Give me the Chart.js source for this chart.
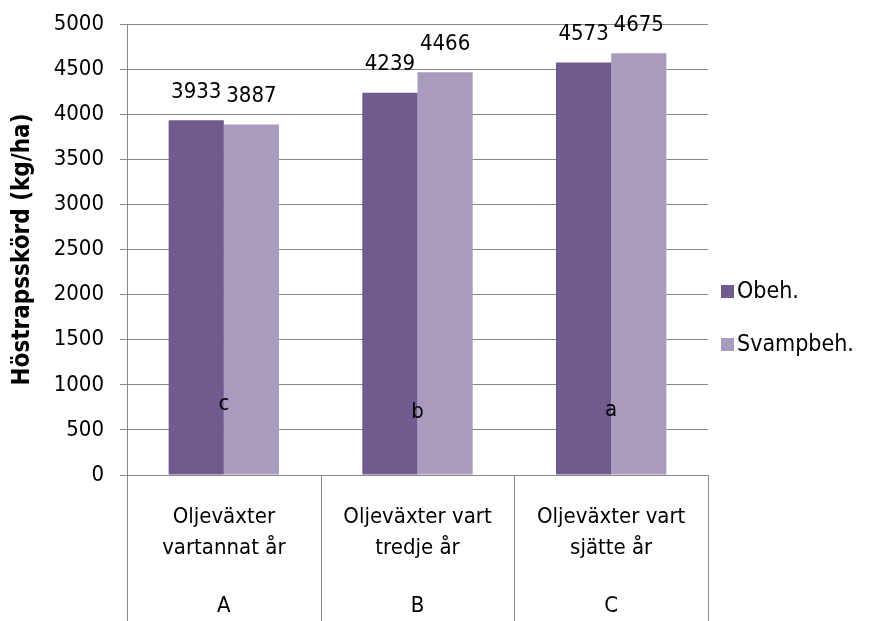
<!DOCTYPE html>
<html><head><meta charset="utf-8">
<script src="https://cdn.jsdelivr.net/npm/chart.js@4.4.1/dist/chart.umd.min.js"></script>
<style>html,body{margin:0;background:#fff}#wrap{width:894px;height:621px}</style>
</head><body><div id="wrap"><canvas id="c"></canvas></div>
<script>
// Data
const categories = [["Oljeväxter", "vartannat år"], ["Oljeväxter vart", "tredje år"], ["Oljeväxter vart", "sjätte år"]];
const groups = ["A", "B", "C"];
const obeh = [3933, 4239, 4573];
const svampbeh = [3887, 4466, 4675];
const letters = ["c", "b", "a"];
const letterLevel = [780, 690, 720];
const yTicks = [0, 500, 1000, 1500, 2000, 2500, 3000, 3500, 4000, 4500, 5000];

const FONT = "'DejaVu Sans Condensed', 'Liberation Sans Narrow', sans-serif";
const GRID = "#878787";

// Extra drawing: value labels, letters, category dividers, group row, legend
const extras = {
  id: "extras",
  afterDraw(chart) {
    const ctx = chart.ctx, x = chart.scales.x, y = chart.scales.y, area = chart.chartArea;
    ctx.save();
    // dividers below the axis
    ctx.strokeStyle = GRID; ctx.lineWidth = 1;
    for (let i = 0; i <= categories.length; i++) {
      const px = Math.round(x.getPixelForValue(i - 0.5)) + 0.5;
      ctx.beginPath(); ctx.moveTo(px, area.bottom); ctx.lineTo(px, chart.height); ctx.stroke();
    }
    ctx.fillStyle = "#000";
    ctx.font = "22px " + FONT;
    ctx.textAlign = "center"; ctx.textBaseline = "middle";
    // category labels
    categories.forEach((lines, i) => {
      const cx = x.getPixelForValue(i);
      lines.forEach((t, j) => ctx.fillText(t, cx, area.bottom + 42 + j * 31));
      ctx.fillText(groups[i], cx, area.bottom + 131);
      ctx.fillText(letters[i], cx, y.getPixelForValue(letterLevel[i]));
    });
    // value labels
    chart.data.datasets.forEach((ds, di) => {
      chart.getDatasetMeta(di).data.forEach((bar, i) => {
        ctx.fillText(String(ds.data[i]), bar.x, bar.y - 28);
      });
    });
    // legend
    ctx.textAlign = "left";
    ctx.font = "23px " + FONT;
    chart.data.datasets.forEach((ds, di) => {
      const ly = 292 + di * 53;
      ctx.fillStyle = ds.backgroundColor;
      ctx.fillRect(721, ly - 7, 13, 13);
      ctx.fillStyle = "#000";
      ctx.fillText(ds.label, 737, ly);
    });
    ctx.restore();
  }
};

new Chart(document.getElementById("c"), {
  type: "bar",
  data: {
    labels: groups,
    datasets: [
      { label: "Obeh.", data: obeh, backgroundColor: "#705A8E" },
      { label: "Svampbeh.", data: svampbeh, backgroundColor: "#A99BBE" }
    ]
  },
  options: {
    responsive: true,
    maintainAspectRatio: false,
    animation: false,
    layout: { padding: { top: 24, right: 186, left: 0, bottom: 0 } },
    datasets: { bar: { categoryPercentage: 0.57, barPercentage: 1 } },
    plugins: { legend: { display: false }, tooltip: { enabled: false } },
    scales: {
      x: {
        grid: { display: false },
        border: { display: false },
        ticks: { display: false },
        afterFit(s) { s.height = 146; }
      },
      y: {
        min: 0, max: 5000,
        afterBuildTicks(s) { s.ticks = yTicks.map(v => ({ value: v })); },
        grid: { color: GRID, tickLength: 7 },
        border: { color: GRID },
        ticks: { color: "#000", font: { family: FONT, size: 22 }, padding: 16, callback: v => String(v) },
        title: {
          display: true, text: "Höstrapsskörd (kg/ha)", color: "#000",
          font: { family: FONT, size: 24, weight: "bold" }, padding: { top: 8, bottom: 0 }
        },
        afterFit(s) { s.width = 127; s.paddingTop = 0; s.paddingBottom = 0; }
      }
    }
  },
  plugins: [extras]
});
</script>
</body></html>
